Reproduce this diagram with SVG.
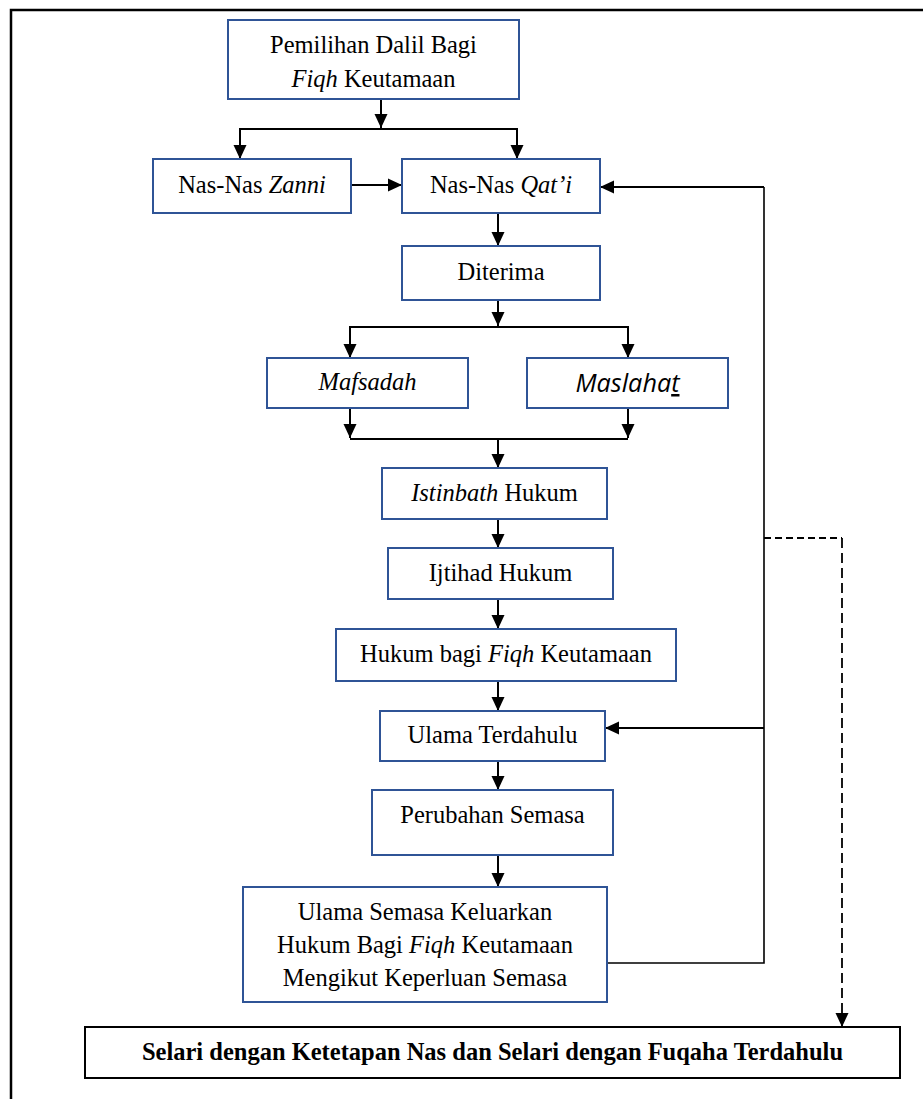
<svg xmlns="http://www.w3.org/2000/svg" width="923" height="1099" viewBox="0 0 923 1099">
<style>
.box{fill:#fff;stroke:#2F5496;stroke-width:2}
.t{font-family:"Liberation Serif","Times New Roman",serif;font-size:24.5px;fill:#000;text-anchor:middle}
.i{font-style:italic}
.c{fill:none;stroke:#000;stroke-width:2}
.thin{fill:none;stroke:#000;stroke-width:1.6}
.dash{fill:none;stroke:#000;stroke-width:1.8}
</style>
<defs>
<marker id="ah" markerUnits="userSpaceOnUse" markerWidth="14" markerHeight="14" refX="14" refY="7" orient="auto">
<path d="M0,0.5 L14,7 L0,13.5 Z" fill="#000"/>
</marker>
</defs>
<rect width="923" height="1099" fill="#fff"/>
<path d="M11,1105 L11,10 L930,10" fill="none" stroke="#000" stroke-width="2.5"/>
<g id="connectors">
<line class="c" x1="381" y1="99" x2="381" y2="128" marker-end="url(#ah)"/>
<polyline class="c" points="240,159 240,129 517,129 517,159" marker-end="url(#ah)"/>
<line class="c" x1="240" y1="130" x2="240" y2="159" marker-end="url(#ah)"/>
<line class="c" x1="351" y1="185" x2="402" y2="185" marker-end="url(#ah)"/>
<line class="c" x1="498" y1="213" x2="498" y2="246" marker-end="url(#ah)"/>
<line class="c" x1="498" y1="300" x2="498" y2="326" marker-end="url(#ah)"/>
<polyline class="c" points="350,358 350,327 628,327 628,358" marker-end="url(#ah)"/>
<line class="c" x1="350" y1="328" x2="350" y2="358" marker-end="url(#ah)"/>
<line class="c" x1="350" y1="408" x2="350" y2="438" marker-end="url(#ah)"/>
<line class="c" x1="628" y1="408" x2="628" y2="438" marker-end="url(#ah)"/>
<line class="c" x1="350" y1="439" x2="628" y2="439"/>
<line class="c" x1="498" y1="439" x2="498" y2="468" marker-end="url(#ah)"/>
<line class="c" x1="498" y1="519" x2="498" y2="548" marker-end="url(#ah)"/>
<line class="c" x1="498" y1="599" x2="498" y2="629" marker-end="url(#ah)"/>
<line class="c" x1="498" y1="681" x2="498" y2="711" marker-end="url(#ah)"/>
<line class="c" x1="498" y1="761" x2="498" y2="790" marker-end="url(#ah)"/>
<line class="c" x1="498" y1="855" x2="498" y2="887" marker-end="url(#ah)"/>
<polyline class="thin" points="607,963 764,963 764,187"/>
<line class="c" x1="764" y1="187" x2="600" y2="187" marker-end="url(#ah)"/>
<line class="c" x1="764" y1="728" x2="605" y2="728" marker-end="url(#ah)"/>
<line class="dash" x1="764" y1="538" x2="842" y2="538" stroke-dasharray="7,4"/>
<line class="dash" x1="842" y1="538" x2="842" y2="1027" stroke-dasharray="10,5" marker-end="url(#ah)"/>
</g>
<g id="n1">
<rect class="box" x="228" y="20" width="291" height="79"/>
<text class="t" x="373.5" y="53">Pemilihan Dalil Bagi</text>
<text class="t" x="373.5" y="87"><tspan class="i">Fiqh</tspan> Keutamaan</text>
</g>
<g id="n2">
<rect class="box" x="153" y="159" width="198" height="54"/>
<text class="t" x="252" y="193">Nas-Nas <tspan class="i">Zanni</tspan></text>
</g>
<g id="n3">
<rect class="box" x="402" y="159" width="198" height="54"/>
<text class="t" x="501" y="193">Nas-Nas <tspan class="i">Qat’i</tspan></text>
</g>
<g id="n4">
<rect class="box" x="402" y="246" width="198" height="54"/>
<text class="t" x="501" y="280">Diterima</text>
</g>
<g id="n5">
<rect class="box" x="267" y="358" width="201" height="50"/>
<text class="t i" x="367.5" y="390">Mafsadah</text>
</g>
<g id="n6">
<rect class="box" x="527" y="358" width="201" height="50"/>
<text x="627.5" y="392" font-family="'Open Sans','Liberation Sans',sans-serif" font-style="italic" font-size="25" text-anchor="middle" textLength="104" lengthAdjust="spacingAndGlyphs">Maslaha<tspan text-decoration="underline">t</tspan></text>
</g>
<g id="n7">
<rect class="box" x="382" y="468" width="225" height="51"/>
<text class="t" x="494.5" y="501"><tspan class="i">Istinbath</tspan> Hukum</text>
</g>
<g id="n8">
<rect class="box" x="388" y="548" width="225" height="51"/>
<text class="t" x="500.5" y="581">Ijtihad Hukum</text>
</g>
<g id="n9">
<rect class="box" x="336" y="629" width="340" height="52"/>
<text class="t" x="506" y="662">Hukum bagi <tspan class="i">Fiqh</tspan> Keutamaan</text>
</g>
<g id="n10">
<rect class="box" x="380" y="711" width="225" height="50"/>
<text class="t" x="492.5" y="743">Ulama Terdahulu</text>
</g>
<g id="n11">
<rect class="box" x="372" y="790" width="241" height="65"/>
<text class="t" x="492.5" y="823">Perubahan Semasa</text>
</g>
<g id="n12">
<rect class="box" x="243" y="887" width="364" height="115"/>
<text class="t" x="425" y="920">Ulama Semasa Keluarkan</text>
<text class="t" x="425" y="953">Hukum Bagi <tspan class="i">Fiqh</tspan> Keutamaan</text>
<text class="t" x="425" y="986">Mengikut Keperluan Semasa</text>
</g>
<g id="n13">
<rect x="85" y="1027" width="815" height="51" fill="#fff" stroke="#000" stroke-width="2"/>
<text class="t" x="492.5" y="1060" font-weight="bold">Selari dengan Ketetapan Nas dan Selari dengan Fuqaha Terdahulu</text>
</g>
</svg>
